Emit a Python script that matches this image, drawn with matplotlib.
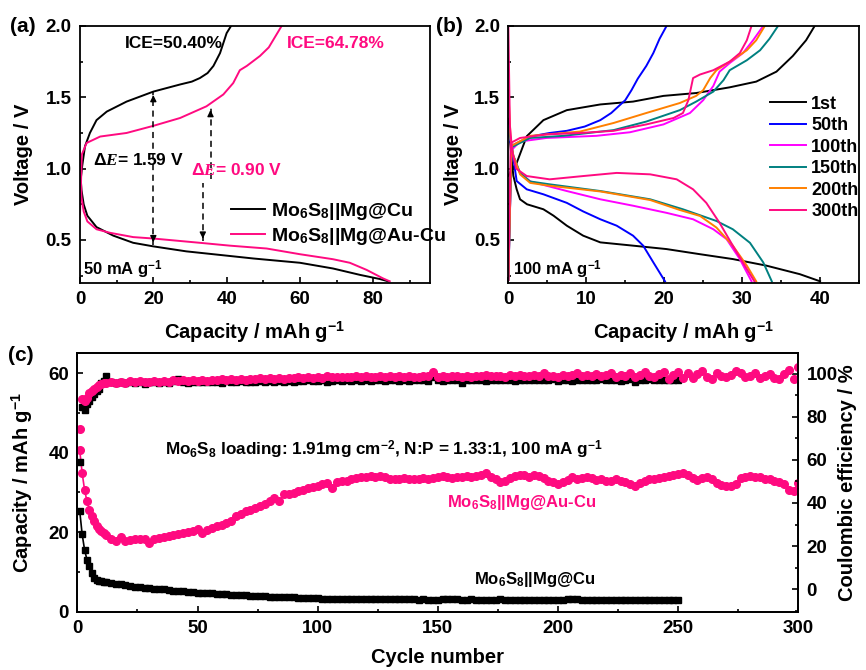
import matplotlib
matplotlib.use('Agg')
import matplotlib.pyplot as plt
from matplotlib.ticker import MultipleLocator

plt.rcParams['font.family'] = ['Liberation Sans', 'DejaVu Sans']
plt.rcParams['font.weight'] = 'bold'
plt.rcParams['axes.labelweight'] = 'bold'
plt.rcParams['mathtext.fontset'] = 'custom'
plt.rcParams['mathtext.rm'] = 'Liberation Sans:bold'
plt.rcParams['mathtext.bf'] = 'Liberation Sans:bold'
plt.rcParams['mathtext.it'] = 'Liberation Serif:italic'
plt.rcParams['axes.linewidth'] = 1.3

PINK = '#ff0a80'

# ---------------- (a) first cycle, 50 mA g-1 ----------------
a_cu_dis_x = [0, 0.4, 1.0, 2.0, 4.5, 9.1, 14.5, 20, 29, 40, 47.3, 60, 69, 76.4, 81.8, 84.1]
a_cu_dis_v = [1.0, 0.85, 0.75, 0.67, 0.59, 0.53, 0.48, 0.455, 0.42, 0.39, 0.37, 0.34, 0.30, 0.255, 0.226, 0.21]
a_cu_chg_x = [0, 0.6, 1.36, 2.7, 4.5, 7.3, 12.7, 20, 27.3, 30.5, 32.7, 34.8, 36.4, 38.2, 40, 41.2]
a_cu_chg_v = [0.88, 1.02, 1.157, 1.25, 1.34, 1.40, 1.47, 1.54, 1.59, 1.61, 1.635, 1.67, 1.72, 1.81, 1.95, 2.0]
a_au_dis_x = [0, 0.4, 1.0, 2.0, 4.5, 8.2, 14.5, 20, 32.7, 40.9, 50.9, 60, 69, 73.6, 78.2, 82.7, 84.5]
a_au_dis_v = [1.12, 0.80, 0.70, 0.63, 0.575, 0.55, 0.52, 0.51, 0.48, 0.46, 0.44, 0.40, 0.365, 0.34, 0.29, 0.23, 0.21]
a_au_chg_x = [0, 0.5, 1.8, 5.5, 12.7, 20, 27.3, 34.5, 39.1, 41.8, 43.6, 45.5, 49.1, 51.5, 53.6, 55]
a_au_chg_v = [0.68, 1.10, 1.18, 1.225, 1.25, 1.30, 1.355, 1.437, 1.52, 1.60, 1.69, 1.72, 1.79, 1.85, 1.94, 2.0]

# ---------------- (b) selected cycles, 100 mA g-1 ----------------
b_labels = ['1st', '50th', '100th', '150th', '200th', '300th']
b_colors = ['black', '#0000ff', '#ff00ff', '#008080', '#ff8000', PINK]
b_dis_x = [
    [0, 0.2, 0.64, 1.07, 1.5, 2.4, 4.5, 5.8, 7.5, 9.6, 11.8, 16.0, 20.3, 24.6, 28.8, 33.1, 37.4, 40.0],
    [0, 0.3, 0.7, 1.07, 2.36, 4.5, 7.5, 9.6, 11.8, 13.9, 16.0, 17.3, 18.6, 20.1],
    [0, 0.3, 0.64, 1.5, 2.8, 4.9, 7.5, 11.8, 16.0, 20.3, 23.7, 26.3, 28.0, 29.7, 31.2],
    [0, 0.3, 0.64, 1.5, 2.8, 5.3, 11.8, 18.2, 22.4, 26.7, 28.8, 31.0, 32.7, 33.8],
    [0, 0.3, 0.64, 1.5, 2.8, 5.3, 11.8, 18.2, 22.0, 24.6, 26.7, 28.8, 30.6, 31.8],
    [0, 0.2, 0.5, 1.0, 2.36, 5.3, 9.6, 13.9, 18.2, 21.6, 23.7, 25.4, 27.1, 28.8, 30.6, 31.6],
]
b_dis_v = [
    [1.35, 1.20, 0.95, 0.855, 0.785, 0.75, 0.715, 0.67, 0.60, 0.53, 0.483, 0.46, 0.436, 0.40, 0.366, 0.32, 0.26, 0.21],
    [1.25, 1.18, 1.05, 0.913, 0.855, 0.82, 0.76, 0.70, 0.645, 0.60, 0.53, 0.46, 0.343, 0.21],
    [1.3, 1.2, 1.09, 0.97, 0.91, 0.88, 0.843, 0.785, 0.74, 0.69, 0.645, 0.575, 0.506, 0.366, 0.21],
    [1.3, 1.2, 1.09, 0.97, 0.91, 0.89, 0.843, 0.785, 0.715, 0.633, 0.575, 0.48, 0.343, 0.21],
    [1.55, 1.2, 1.09, 0.96, 0.90, 0.88, 0.84, 0.78, 0.71, 0.668, 0.587, 0.46, 0.32, 0.21],
    [2.0, 1.3, 1.12, 1.0, 0.948, 0.925, 0.948, 0.97, 0.96, 0.925, 0.855, 0.76, 0.62, 0.46, 0.296, 0.207],
]
b_chg_x = [
    [0, 0.5, 1.07, 2.36, 4.5, 7.5, 11.8, 16.0, 19.9, 24.1, 28.4, 31.8, 34.4, 36.5, 38.2, 39.3],
    [0, 0.4, 2.8, 5.3, 7.5, 9.8, 11.8, 13.2, 14.2, 15.0, 15.8, 16.6, 17.7, 18.6, 19.4, 20.3],
    [0, 0.4, 1.5, 4.9, 11.3, 15.6, 19.9, 23.3, 25.0, 26.3, 27.1, 28.4, 30.1, 31.4, 32.7],
    [0, 0.4, 2.8, 7.1, 13.5, 17.7, 22.0, 24.1, 26.3, 27.6, 28.4, 30.6, 32.3, 33.5, 34.6],
    [0, 0.4, 2.8, 9.2, 13.5, 17.7, 22.0, 24.1, 25.0, 25.9, 26.7, 28.4, 30.6, 31.8, 32.9],
    [0, 0.3, 1.5, 4.9, 9.2, 13.5, 17.7, 21.2, 22.4, 23.1, 23.7, 24.6, 26.3, 28.4, 29.7, 30.6, 31.2],
]
b_chg_v = [
    [0.95, 1.0, 1.04, 1.227, 1.34, 1.41, 1.45, 1.47, 1.51, 1.53, 1.57, 1.61, 1.68, 1.79, 1.90, 2.0],
    [0.22, 1.16, 1.225, 1.25, 1.265, 1.295, 1.34, 1.39, 1.44, 1.48, 1.55, 1.63, 1.72, 1.81, 1.91, 2.0],
    [0.22, 1.13, 1.19, 1.215, 1.23, 1.255, 1.31, 1.39, 1.48, 1.58, 1.68, 1.74, 1.81, 1.90, 2.0],
    [0.22, 1.15, 1.215, 1.23, 1.27, 1.33, 1.41, 1.47, 1.54, 1.62, 1.69, 1.76, 1.83, 1.91, 2.0],
    [0.22, 1.16, 1.23, 1.26, 1.32, 1.39, 1.46, 1.51, 1.55, 1.635, 1.69, 1.75, 1.83, 1.90, 2.0],
    [0.22, 1.18, 1.215, 1.24, 1.25, 1.265, 1.31, 1.355, 1.39, 1.48, 1.635, 1.66, 1.69, 1.75, 1.81, 1.90, 2.0],
]

# ---------------- (c) cycling ----------------
cyc_cu = list(range(1, 13)) + list(range(14, 251, 2))
cyc_au = list(range(1, 13)) + list(range(14, 301, 2))

cap_cu = [25.3, 19.5, 15.6, 13.1, 11.4, 9.7, 8.4, 8.0, 7.8, 7.6, 7.5, 7.4,
          7.2, 7.0, 6.9, 6.7, 6.5, 6.3, 6.2, 6.0, 5.9,
          5.8, 5.7, 5.6, 5.5, 5.3, 5.2, 5.1, 5.0, 4.9, 4.8,
          4.7, 4.7, 4.6, 4.5, 4.4, 4.4, 4.3, 4.2, 4.2, 4.1,
          4.0, 4.0, 3.9, 3.9, 3.8, 3.8, 3.7, 3.7, 3.6, 3.6,
          3.5, 3.5, 3.5, 3.4, 3.4, 3.3, 3.3, 3.3, 3.3, 3.2,
          3.2, 3.2, 3.2, 3.2, 3.2, 3.1, 3.2, 3.2, 3.1, 3.1,
          3.1, 3.2, 3.1, 3.1, 3.1, 3.0, 3.1, 3.0, 3.0, 3.0,
          3.1, 3.1, 3.1, 3.1, 3.0, 3.0, 3.1, 3.0, 3.0, 3.0,
          3.0, 3.0, 3.1, 3.0, 3.0, 3.0, 3.0, 3.0, 3.0, 3.0,
          3.0, 3.0, 3.0, 3.0, 3.0, 3.0, 3.1, 3.2, 3.1, 3.0,
          3.0, 3.0, 3.0, 3.0, 2.9, 2.9, 3.0, 3.0, 2.9, 2.9,
          2.9, 2.9, 2.9, 2.9, 2.9, 2.9, 2.9, 2.9, 2.9, 2.9]

ce_cu = [59.0, 84.5, 83.0, 86.0, 87.5, 89.0, 90.5, 92.0, 93.0, 95.5, 96.5, 99.0,
         96.0, 95.5, 96.2, 95.8, 96.0, 95.5, 96.3, 95.0, 96.0,
         96.2, 95.8, 96.0, 95.5, 96.4, 97.5, 96.0, 95.8, 96.2, 96.0,
         96.1, 95.9, 96.3, 96.0, 95.4, 96.4, 96.0, 96.2, 96.5, 96.1,
         96.3, 96.0, 96.6, 96.2, 96.4, 96.1, 96.7, 96.3, 96.5, 96.2,
         96.6, 96.4, 96.8, 96.5, 96.7, 96.9, 96.3, 96.7, 97.0, 96.6,
         96.8, 96.6, 97.0, 96.7, 96.9, 96.5, 97.0, 96.8, 96.6, 97.0,
         96.8, 96.5, 97.0, 96.7, 96.9, 96.8, 97.1, 96.6, 98.5, 96.9,
         96.7, 97.0, 96.8, 96.9, 95.8, 97.0, 96.8, 97.1, 96.9, 96.7,
         97.0, 96.8, 97.1, 96.9, 97.2, 96.6, 97.0, 96.8, 97.2, 97.0,
         96.9, 97.1, 96.8, 97.3, 96.7, 97.0, 97.2, 96.5, 97.1, 96.9,
         97.2, 97.0, 96.8, 97.3, 97.1, 96.9, 97.2, 96.6, 97.0, 97.4,
         96.3, 97.1, 96.9, 97.3, 97.0, 96.8, 97.2, 97.0, 96.9, 97.1]

cap_au = [40.6, 34.9, 30.7, 27.8, 25.7, 24.0, 22.7, 21.5, 20.8, 20.2, 19.7, 19.2,
          18.4, 17.9, 18.8, 17.9, 18.0, 18.2, 18.3, 18.4, 17.3,
          18.2, 18.6, 18.8, 19.0, 19.3, 19.5, 19.8, 20.1, 20.4, 20.7,
          19.7, 20.6, 21.1, 21.5, 21.9, 22.3, 22.8, 24.0, 24.6, 25.3,
          25.6, 26.1, 26.5, 27.1, 27.8, 28.6, 27.9, 29.5, 29.7, 29.9,
          30.3, 30.6, 31.0, 31.3, 31.7, 32.1, 32.4, 31.2, 32.6, 32.8,
          33.0, 33.3, 33.6, 33.8, 34.0, 34.1, 33.9, 34.1, 33.8, 33.4,
          33.3, 33.5, 33.6, 33.4, 33.5, 33.3, 33.6, 33.4, 33.7, 33.8,
          34.1, 33.9, 33.7, 33.8, 34.0, 34.1, 33.9, 34.2, 34.4, 34.8,
          34.0, 33.5, 32.6, 32.8, 33.6, 34.2, 34.5, 34.3, 34.0, 34.4,
          34.1, 33.6, 33.0, 32.6, 32.2, 32.6, 33.2, 33.8, 33.4, 33.6,
          33.9, 33.6, 33.2, 33.5, 33.0, 32.8, 33.3, 33.0, 32.6, 32.2,
          31.6, 32.3, 32.9, 33.4, 33.5, 33.7, 34.0, 34.2, 34.4, 34.6,
          35.0, 34.5, 33.6, 33.2, 33.7, 34.0, 33.5, 32.4, 31.8, 31.6,
          31.6, 32.2, 33.7, 34.0, 34.1, 34.0, 33.8, 33.5, 33.3, 33.0,
          32.6, 32.0, 30.5, 30.3, 32.4]

ce_au = [74.4, 88.0, 87.5, 88.5, 91.2, 92.0, 93.0, 93.6, 94.5, 95.1, 95.8, 95.5,
         96.0, 95.6, 96.2, 95.8, 96.4, 96.0, 96.6, 96.1, 96.3,
         96.5, 96.0, 96.7, 96.3, 96.8, 96.4, 96.9, 96.5, 97.0, 96.6,
         97.0, 96.7, 97.2, 96.8, 97.3, 97.0, 97.4, 97.1, 97.5, 97.2,
         97.6, 97.3, 97.8, 97.4, 97.9, 97.5, 98.0, 97.7, 98.1, 97.8,
         98.2, 97.9, 98.3, 98.0, 98.5, 98.1, 98.7, 98.3, 98.5, 98.2,
         98.6, 98.3, 98.7, 98.4, 98.8, 98.5, 98.6, 98.9, 98.4, 98.7,
         98.5, 98.8, 98.3, 98.9, 98.6, 98.4, 99.0, 98.7, 100.5, 98.5,
         98.8, 98.6, 99.0, 98.7, 98.5, 98.9, 98.6, 99.1, 98.8, 99.2,
         98.7, 99.0, 98.8, 98.5, 99.2, 98.9, 99.5, 98.7, 99.1, 99.3,
         99.0, 100.2, 98.8, 99.1, 98.6, 99.4, 98.9, 99.2, 100.4, 98.7,
         99.3, 98.9, 99.6, 98.8, 99.2, 100.3, 98.6, 99.4, 98.9, 100.1,
         98.4, 99.5, 100.6, 99.0, 98.3, 99.8, 100.9, 97.6, 99.2, 100.5,
         98.0, 100.2, 97.8, 99.6, 101.2, 98.4, 97.7, 100.3, 99.0, 98.2,
         99.5, 101.0, 100.2, 98.6, 99.1, 100.4, 97.9, 98.8, 99.6, 98.1,
         97.5, 99.8, 101.8, 97.3, 103.0]

TICK_FS = 13.5
LABEL_FS = 14.5


def style(ax):
    ax.tick_params(which='both', direction='in', labelsize=TICK_FS, width=1.2, pad=6)
    ax.tick_params(which='major', length=4.5)
    ax.tick_params(which='minor', length=2.5)


fig = plt.figure(figsize=(8.66, 6.7), dpi=100)

# ----- panel a -----
ax = fig.add_axes([0.0924, 0.578, 0.4042, 0.3832])
ax.plot(a_cu_dis_x, a_cu_dis_v, color='black', lw=1.4, label='Mo$_6$S$_8$||Mg@Cu')
ax.plot(a_cu_chg_x, a_cu_chg_v, color='black', lw=1.4)
ax.plot(a_au_dis_x, a_au_dis_v, color=PINK, lw=1.4, label='Mo$_6$S$_8$||Mg@Au-Cu')
ax.plot(a_au_chg_x, a_au_chg_v, color=PINK, lw=1.4)
ax.set_xlim(0, 95.5)
ax.set_ylim(0.2, 2.0)
ax.xaxis.set_major_locator(MultipleLocator(20))
ax.xaxis.set_minor_locator(MultipleLocator(10))
ax.yaxis.set_major_locator(MultipleLocator(0.5))
ax.yaxis.set_minor_locator(MultipleLocator(0.25))
style(ax)
ax.set_xlabel('Capacity / mAh g$^{-1}$', fontsize=LABEL_FS)
ax.set_ylabel('Voltage / V', fontsize=LABEL_FS)
ax.xaxis.set_label_coords(0.5, -0.145)
ax.yaxis.set_label_coords(-0.134, 0.5)


def gap_arrow(ax, x, y0, y1, head0=True, head1=True):
    ax.plot([x, x], [y0, y1], color='black', lw=1.1, ls=(0, (4, 3)))
    kw = dict(arrowstyle='-|>', color='black', lw=1.0, mutation_scale=9)
    if head1:
        ax.annotate('', xy=(x, y1), xytext=(x, y1 - 0.06 * (1 if y1 > y0 else -1)), arrowprops=kw)
    if head0:
        ax.annotate('', xy=(x, y0), xytext=(x, y0 + 0.06 * (1 if y1 > y0 else -1)), arrowprops=kw)


gap_arrow(ax, 20, 0.465, 1.535)
gap_arrow(ax, 33.5, 0.49, 0.90, head0=True, head1=False)
gap_arrow(ax, 35.6, 0.93, 1.43, head0=False, head1=True)
ax.text(12.3, 1.88, 'ICE=50.40%', fontsize=12.5, va='center')
ax.text(56.4, 1.88, 'ICE=64.78%', fontsize=12.5, va='center', color=PINK)
ax.text(3.6, 1.06, r'$\Delta E$= 1.59 V', fontsize=12.5, va='center')
ax.text(30.2, 0.99, r'$\Delta E$= 0.90 V', fontsize=12.5, va='center', color=PINK)
ax.text(0.9, 0.29, '50 mA g$^{-1}$', fontsize=12, va='center')
ax.legend(loc='center left', bbox_to_anchor=(0.43, 0.23), frameon=False, fontsize=14,
          handlelength=1.75, handletextpad=0.35, labelspacing=0.2, borderpad=0, borderaxespad=0)
fig.text(0.011, 0.961, '(a)', fontsize=15, fontweight='bold', va='center')

# ----- panel b -----
ax = fig.add_axes([0.587, 0.578, 0.405, 0.3832])
for i in range(len(b_labels)):
    ax.plot(b_dis_x[i], b_dis_v[i], color=b_colors[i], lw=1.4, label=b_labels[i])
    ax.plot(b_chg_x[i], b_chg_v[i], color=b_colors[i], lw=1.4)
ax.set_xlim(0, 45)
ax.set_ylim(0.2, 2.0)
ax.xaxis.set_major_locator(MultipleLocator(10))
ax.xaxis.set_minor_locator(MultipleLocator(5))
ax.yaxis.set_major_locator(MultipleLocator(0.5))
ax.yaxis.set_minor_locator(MultipleLocator(0.25))
style(ax)
ax.set_xlabel('Capacity / mAh g$^{-1}$', fontsize=LABEL_FS)
ax.set_ylabel('Voltage / V', fontsize=LABEL_FS)
ax.xaxis.set_label_coords(0.5, -0.145)
ax.yaxis.set_label_coords(-0.128, 0.5)
ax.text(0.64, 0.29, '100 mA g$^{-1}$', fontsize=12, va='center')
ax.legend(loc='center left', bbox_to_anchor=(0.745, 0.486), frameon=False, fontsize=13,
          handlelength=2.0, handletextpad=0.3, labelspacing=0.25, borderpad=0, borderaxespad=0)
fig.text(0.503, 0.961, '(b)', fontsize=15, fontweight='bold', va='center')

# ----- panel c -----
ax = fig.add_axes([0.0893, 0.087, 0.8326, 0.3857])
ax2 = ax.twinx()
ax.plot(cyc_cu, cap_cu, color='black', marker='s', ms=5, lw=1.2, zorder=3)
ax.plot(cyc_au, cap_au, color=PINK, marker='o', ms=5.5, lw=1.2, zorder=3)
ax2.plot(cyc_cu, ce_cu, color='black', marker='s', ms=4.5, ls='none')
ax2.plot(cyc_au, ce_au, color=PINK, marker='o', ms=5.5, ls='none')
ax.set_xlim(0, 300)
ax.set_ylim(0, 65)
ax2.set_ylim(-10.4, 109.4)
ax.xaxis.set_major_locator(MultipleLocator(50))
ax.xaxis.set_minor_locator(MultipleLocator(25))
ax.yaxis.set_major_locator(MultipleLocator(20))
ax.yaxis.set_minor_locator(MultipleLocator(10))
ax2.yaxis.set_major_locator(MultipleLocator(20))
ax2.yaxis.set_minor_locator(MultipleLocator(10))
style(ax)
style(ax2)
ax.set_xlabel('Cycle number', fontsize=LABEL_FS)
ax.set_ylabel('Capacity / mAh g$^{-1}$', fontsize=LABEL_FS)
ax2.set_ylabel('Coulombic efficiency / %', fontsize=LABEL_FS)
ax.xaxis.set_label_coords(0.5, -0.14)
ax.yaxis.set_label_coords(-0.059, 0.5)
ax2.yaxis.set_label_coords(1.055, 0.5)
ax.text(36.5, 40.8, 'Mo$_6$S$_8$ loading: 1.91mg cm$^{-2}$, N:P = 1.33:1, 100 mA g$^{-1}$',
        fontsize=12.3, va='center')
ax.text(153.9, 27.4, 'Mo$_6$S$_8$||Mg@Au-Cu', fontsize=12, va='center', color=PINK)
ax.text(165, 8.0, 'Mo$_6$S$_8$||Mg@Cu', fontsize=12, va='center')
fig.text(0.009, 0.47, '(c)', fontsize=15, fontweight='bold', va='center')

fig.savefig('out.png', dpi=100)
